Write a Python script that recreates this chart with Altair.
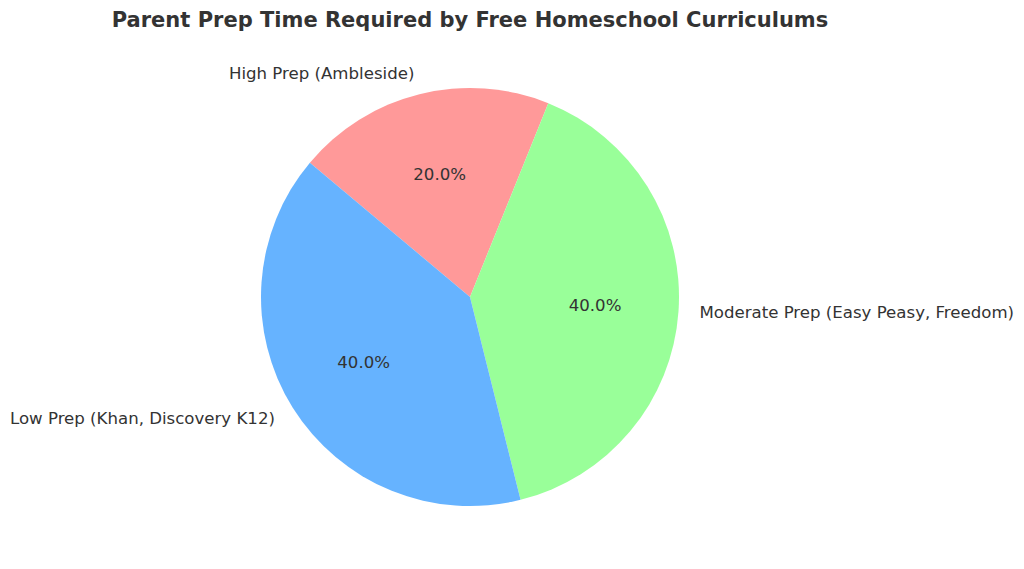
import altair as alt
import pandas as pd
import math

categories = ["High Prep (Ambleside)", "Moderate Prep (Easy Peasy, Freedom)", "Low Prep (Khan, Discovery K12)"]
values = [20, 40, 40]
colors = ["#ff9999", "#99ff99", "#66b3ff"]
aligns = ["right", "left", "right"]

total = sum(values)
df = pd.DataFrame({
    "category": categories,
    "value": [v / total * 100 for v in values],
    "order": list(range(len(categories))),
    "pct": [f"{v / total * 100:.1f}%" for v in values],
    "side": aligns,
})

start = math.radians(310)
tscale = alt.Scale(domain=[0, 100], range=[start, start + 2 * math.pi])

base = alt.Chart(df).transform_stack(
    stack="value", groupby=[], as_=["v0", "v1"], sort=[alt.SortField("order")]
).transform_calculate(mid="(datum.v0 + datum.v1) / 2")

arcs = base.mark_arc(outerRadius=209).encode(
    theta=alt.Theta("v0:Q", scale=tscale),
    theta2="v1:Q",
    color=alt.Color("category:N", scale=alt.Scale(domain=categories, range=colors), legend=None),
)

txt = dict(font="DejaVu Sans", fontSize=16.6, color="#333333", baseline="middle")

pct = base.mark_text(**txt).encode(
    theta=alt.Theta("mid:Q", scale=tscale), radius=alt.value(125.4), text="pct:N"
)

lab_r = base.transform_filter(alt.datum.side == "right").mark_text(align="right", **txt).encode(
    theta=alt.Theta("mid:Q", scale=tscale), radius=alt.value(230), text="category:N"
)

lab_l = base.transform_filter(alt.datum.side == "left").mark_text(align="left", **txt).encode(
    theta=alt.Theta("mid:Q", scale=tscale), radius=alt.value(230), text="category:N"
)

chart = alt.layer(arcs, pct, lab_r, lab_l).properties(
    width=924,
    height=528,
    autosize=alt.AutoSizeParams(type="none"),
    padding={"left": 0, "top": 25, "right": 84, "bottom": 0},
    title=alt.TitleParams(
        "Parent Prep Time Required by Free Homeschool Curriculums",
        font="DejaVu Sans", fontSize=21, fontWeight="bold", color="#333333",
        anchor="middle", offset=2,
    ),
).configure_view(stroke=None)

chart.save("out.html", embed_options={"renderer": "svg", "actions": False})
